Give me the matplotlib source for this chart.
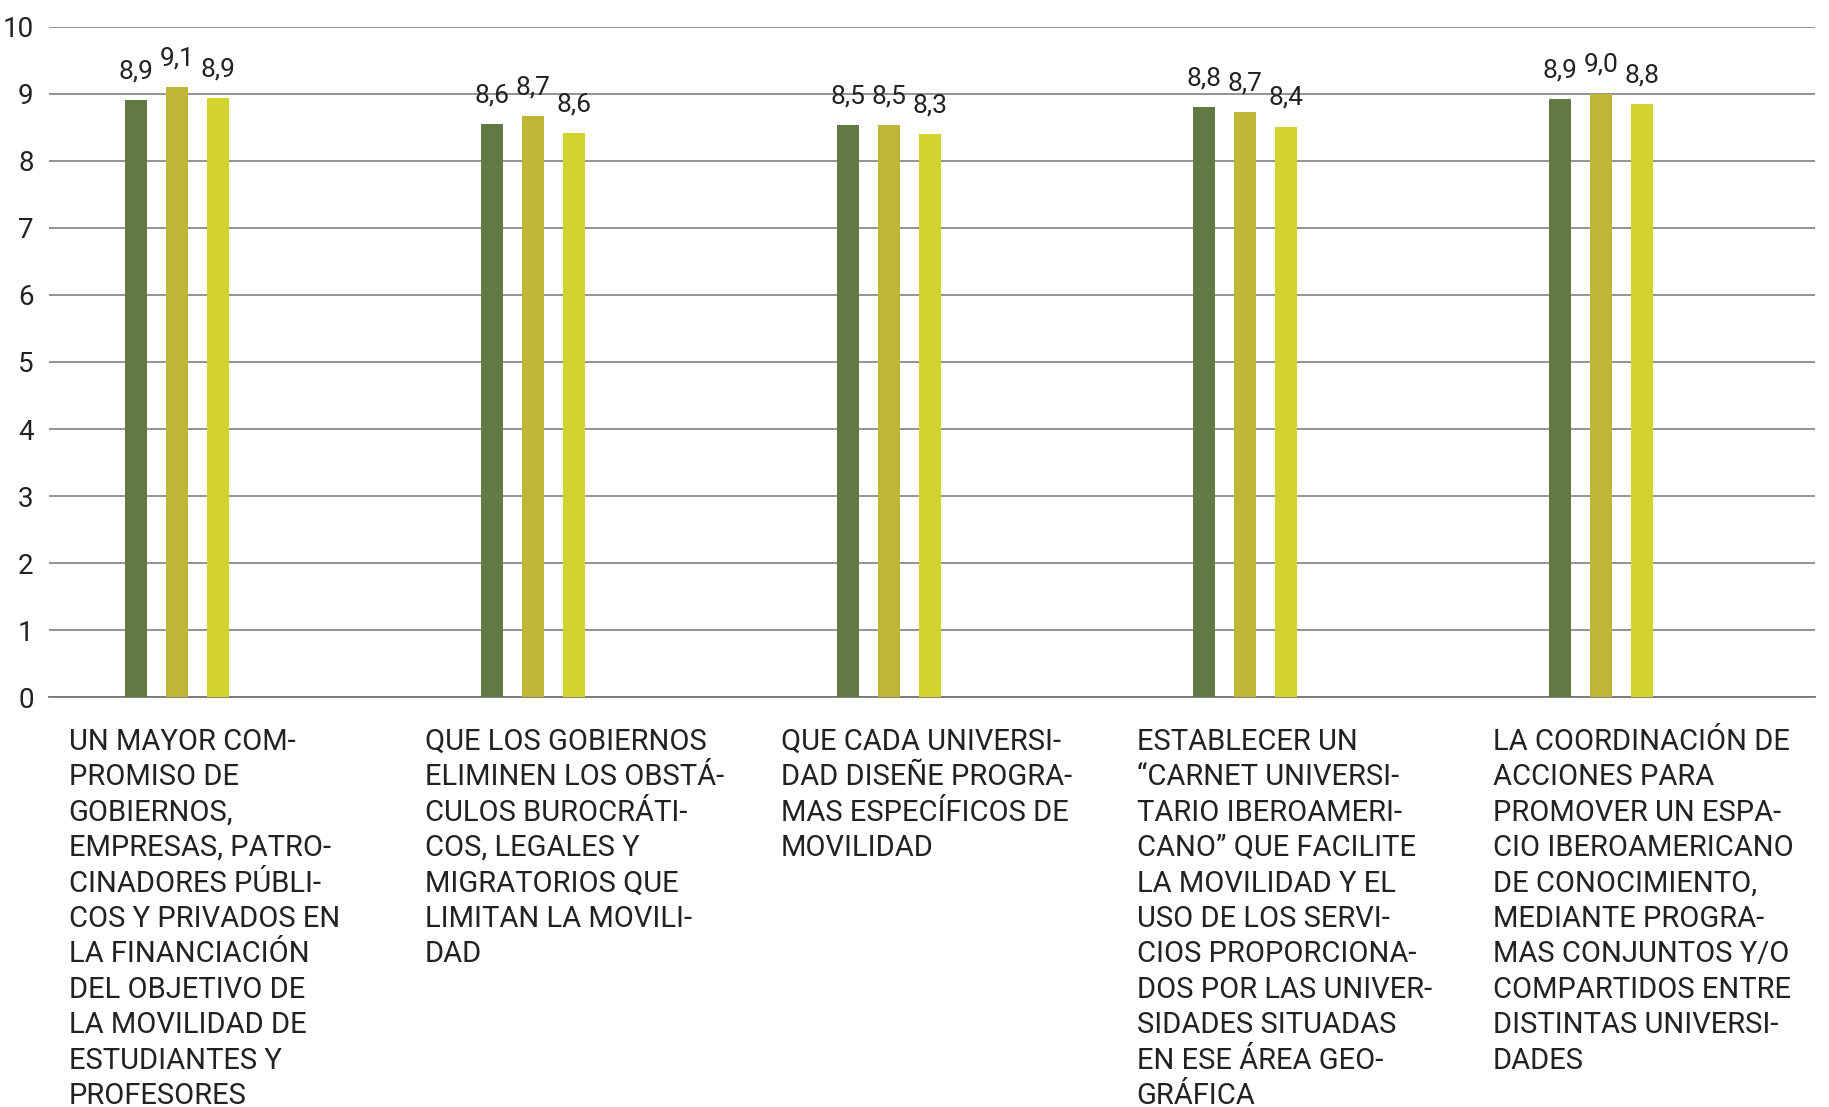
import numpy as np
import matplotlib
matplotlib.use('Agg')
import matplotlib.pyplot as plt
import matplotlib.transforms as mtransforms

# datos
categorias = [
    "UN MAYOR COM-\nPROMISO DE\nGOBIERNOS,\nEMPRESAS, PATRO-\nCINADORES PÚBLI-\nCOS Y PRIVADOS EN\nLA FINANCIACIÓN\nDEL OBJETIVO DE\nLA MOVILIDAD DE\nESTUDIANTES Y\nPROFESORES",
    "QUE LOS GOBIERNOS\nELIMINEN LOS OBSTÁ-\nCULOS BUROCRÁTI-\nCOS, LEGALES Y\nMIGRATORIOS QUE\nLIMITAN LA MOVILI-\nDAD",
    "QUE CADA UNIVERSI-\nDAD DISEÑE PROGRA-\nMAS ESPECÍFICOS DE\nMOVILIDAD",
    "ESTABLECER UN\n“CARNET UNIVERSI-\nTARIO IBEROAMERI-\nCANO” QUE FACILITE\nLA MOVILIDAD Y EL\nUSO DE LOS SERVI-\nCIOS PROPORCIONA-\nDOS POR LAS UNIVER-\nSIDADES SITUADAS\nEN ESE ÁREA GEO-\nGRÁFICA",
    "LA COORDINACIÓN DE\nACCIONES PARA\nPROMOVER UN ESPA-\nCIO IBEROAMERICANO\nDE CONOCIMIENTO,\nMEDIANTE PROGRA-\nMAS CONJUNTOS Y/O\nCOMPARTIDOS ENTRE\nDISTINTAS UNIVERSI-\nDADES",
]
serie_1 = [8.91, 8.55, 8.53, 8.80, 8.92]
serie_2 = [9.10, 8.66, 8.53, 8.73, 9.00]
serie_3 = [8.93, 8.41, 8.40, 8.51, 8.85]
etiquetas_1 = ["8,9", "8,6", "8,5", "8,8", "8,9"]
etiquetas_2 = ["9,1", "8,7", "8,5", "8,7", "9,0"]
etiquetas_3 = ["8,9", "8,6", "8,3", "8,4", "8,8"]
yticks = list(range(0, 11))

colores = ['#617A43', '#BFB636', '#D3D32E']
fuente = ['Roboto', 'DejaVu Sans']
texto_color = '#222222'

fig = plt.figure(figsize=(18.29, 11.07), dpi=100)
ax = fig.add_axes([0.0268, 0.370, 0.9655, 0.606])

x = np.arange(len(categorias))
ancho = 0.062
paso = 0.115

series = [serie_1, serie_2, serie_3]
etiquetas = [etiquetas_1, etiquetas_2, etiquetas_3]
for k in range(3):
    pos = x + (k - 1) * paso
    ax.bar(pos, series[k], width=ancho, color=colores[k], zorder=3)
    for xi, yi, lab in zip(pos, series[k], etiquetas[k]):
        ax.annotate(lab, (xi, yi), xytext=(0, 12), textcoords='offset points',
                    ha='center', va='bottom', fontsize=19, family=fuente,
                    color=texto_color, zorder=4)

ax.set_xlim(-0.36, 4.6)
ax.set_ylim(0, 10)
ax.set_yticks(yticks)
ax.set_xticks([])
ax.yaxis.grid(True, color='#8a8a8a', linewidth=1.3, zorder=0)
ax.set_axisbelow(True)
for s in ['top', 'right', 'left']:
    ax.spines[s].set_visible(False)
ax.spines['bottom'].set_color('#777777')
ax.spines['bottom'].set_linewidth(1.3)
ax.tick_params(axis='y', length=0, pad=11, labelsize=20, labelcolor=texto_color)
for t in ax.get_yticklabels():
    t.set_family(fuente)

# textos de categoria debajo del eje
trans = mtransforms.blended_transform_factory(ax.transData, ax.transAxes)
for xi, cat in zip(x, categorias):
    ax.text(xi - 0.305, -0.045, cat, transform=trans, ha='left', va='top',
            fontsize=21, family=fuente, color=texto_color, linespacing=1.34)

fig.savefig('out.png', dpi=100)
